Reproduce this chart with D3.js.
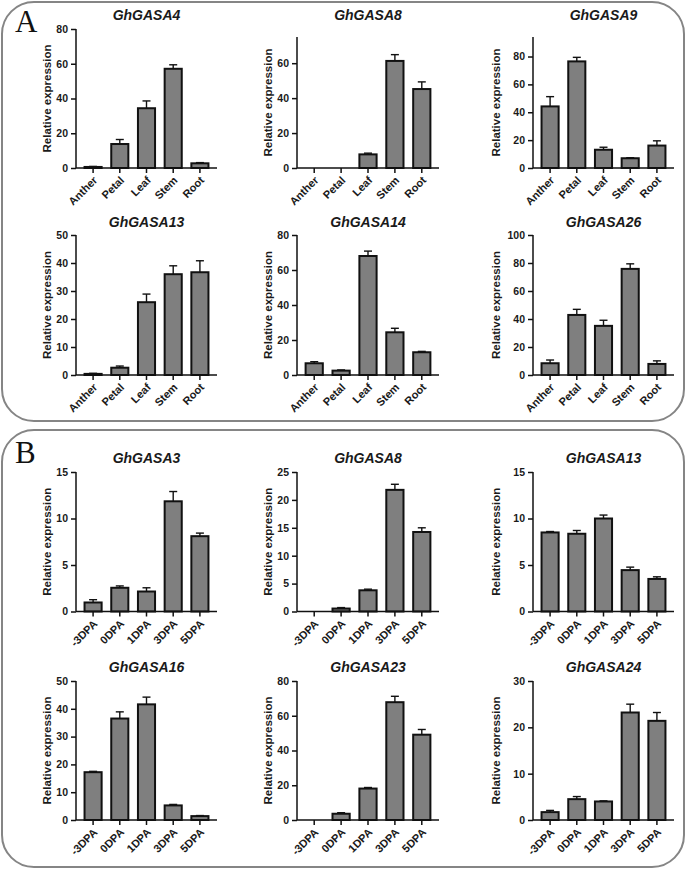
<!DOCTYPE html>
<html><head><meta charset="utf-8">
<script src="https://cdn.jsdelivr.net/npm/d3@7"></script>
<style>body{margin:0;background:#fff}svg{display:block}</style>
</head><body>
<script>
// ---------------- DATA ----------------
const tissues = ["Anther", "Petal", "Leaf", "Stem", "Root"];
const stages = ["-3DPA", "0DPA", "1DPA", "3DPA", "5DPA"];

const genesA = ["GhGASA4", "GhGASA8", "GhGASA9", "GhGASA13", "GhGASA14", "GhGASA26"];
const meansA = [
  [0.6, 13.8, 34.4, 57.1, 2.7],
  [0, 0, 7.8, 61.3, 45.2],
  [44.2, 76.5, 13.1, 7.0, 16.1],
  [0.4, 2.6, 26.0, 36.0, 36.7],
  [6.7, 2.5, 68.0, 24.4, 13.0],
  [8.4, 42.9, 35.1, 75.8, 7.9]
];
const sdA = [
  [0.3, 2.6, 4.2, 2.3, 0.4],
  [0, 0, 0.7, 3.6, 4.1],
  [7.0, 2.9, 1.8, 0.4, 3.4],
  [0.2, 0.6, 2.9, 3.0, 4.1],
  [0.9, 0.4, 2.8, 2.3, 0.5],
  [2.3, 4.0, 4.0, 3.6, 2.2]
];
const yMaxA = [80, 75, 94, 50, 80, 100];
const ticksA = [
  [0, 20, 40, 60, 80],
  [0, 20, 40, 60],
  [0, 20, 40, 60, 80],
  [0, 10, 20, 30, 40, 50],
  [0, 20, 40, 60, 80],
  [0, 20, 40, 60, 80, 100]
];

const genesB = ["GhGASA3", "GhGASA8", "GhGASA13", "GhGASA16", "GhGASA23", "GhGASA24"];
const meansB = [
  [0.97, 2.55, 2.15, 11.85, 8.1],
  [0, 0.53, 3.8, 21.8, 14.25],
  [8.5, 8.36, 10.0, 4.45, 3.5],
  [17.2, 36.5, 41.6, 5.25, 1.4],
  [0, 3.6, 18.1, 67.8, 49.1],
  [1.7, 4.5, 4.0, 23.2, 21.4]
];
const sdB = [
  [0.3, 0.2, 0.4, 1.05, 0.33],
  [0, 0.17, 0.2, 1.0, 0.75],
  [0.1, 0.35, 0.37, 0.32, 0.23],
  [0.3, 2.4, 2.6, 0.35, 0.2],
  [0, 0.6, 0.6, 3.4, 3.0],
  [0.37, 0.56, 0.13, 1.8, 1.8]
];
const yMaxB = [15, 25, 15, 50, 80, 30];
const ticksB = [
  [0, 5, 10, 15],
  [0, 5, 10, 15, 20, 25],
  [0, 5, 10, 15],
  [0, 10, 20, 30, 40, 50],
  [0, 20, 40, 60, 80],
  [0, 10, 20, 30]
];

const groupLabels = ["A", "B"];

// ---------------- LAYOUT ----------------
const W = 685, H = 869;
const FONT = "'Liberation Sans', Arial, Helvetica, sans-serif";
const colAxisX = [76, 297, 533];
const colRightX = [217, 439, 674];
const colYLabelX = [47, 268, 496];
const rowZero = [168, 375, 611.5, 820];
const rowTop = [29, 235, 472, 681];
const rowTitleY = [20, 227, 463, 672];
const topOverride = {"A1": 37, "A2": 37};
const boxes = [
  {x: 2, y: 2, w: 682, h: 419, lx: 15, ly: 32},
  {x: 2, y: 430, w: 682, h: 437, lx: 15, ly: 463}
];

const svg = d3.select("body").append("svg").attr("width", W).attr("height", H)
  .style("font-family", FONT);

// group boxes
boxes.forEach((b, i) => {
  svg.append("rect").attr("x", b.x).attr("y", b.y).attr("width", b.w).attr("height", b.h)
    .attr("rx", 32).attr("ry", 32).attr("fill", "none")
    .attr("stroke", "#858585").attr("stroke-width", 2);
  svg.append("text").attr("x", b.lx).attr("y", b.ly).text(groupLabels[i])
    .attr("font-family", "'Liberation Serif', 'Times New Roman', serif")
    .attr("font-size", 31).attr("fill", "#111");
});

const panels = [];
genesA.forEach((g, i) => panels.push({gene: g, cats: tissues, means: meansA[i], sd: sdA[i], yMax: yMaxA[i], ticks: ticksA[i], row: Math.floor(i / 3), col: i % 3, key: "A" + i}));
genesB.forEach((g, i) => panels.push({gene: g, cats: stages, means: meansB[i], sd: sdB[i], yMax: yMaxB[i], ticks: ticksB[i], row: 2 + Math.floor(i / 3), col: i % 3, key: "B" + i}));

panels.forEach(p => {
  const x0 = colAxisX[p.col], x1 = colRightX[p.col];
  const zero = rowZero[p.row];
  const top = topOverride[p.key] !== undefined ? topOverride[p.key] : rowTop[p.row];
  const g = svg.append("g");

  const x = d3.scaleBand().domain(p.cats).range([x0, x1]).paddingInner(0.36).paddingOuter(0.32);
  const y = d3.scaleLinear().domain([0, p.yMax]).range([zero, top]);

  // title
  g.append("text").attr("x", (x0 + x1) / 2).attr("y", rowTitleY[p.row])
    .attr("text-anchor", "middle").attr("font-size", 14).attr("font-weight", "bold")
    .attr("font-style", "italic").attr("fill", "#1a1a1a").text(p.gene);

  // y label
  g.append("text").attr("transform", `translate(${colYLabelX[p.col]},${(top + zero) / 2}) rotate(-90)`)
    .attr("text-anchor", "middle").attr("dy", "0.35em").attr("font-size", 11.5)
    .attr("font-weight", "bold").attr("fill", "#1a1a1a").text("Relative expression");

  // bars
  const data = p.cats.map((c, i) => ({c, v: p.means[i], e: p.sd[i]}));
  g.selectAll("rect.bar").data(data.filter(d => d.v > 0)).join("rect").attr("class", "bar")
    .attr("x", d => x(d.c)).attr("width", x.bandwidth())
    .attr("y", d => y(d.v)).attr("height", d => zero - y(d.v))
    .attr("fill", "#7f7f7f").attr("stroke", "#111").attr("stroke-width", 2);

  // error bars (upper)
  const eb = data.filter(d => d.e > 0);
  g.selectAll("line.ev").data(eb).join("line")
    .attr("x1", d => x(d.c) + x.bandwidth() / 2).attr("x2", d => x(d.c) + x.bandwidth() / 2)
    .attr("y1", d => y(d.v)).attr("y2", d => y(d.v + d.e))
    .attr("stroke", "#111").attr("stroke-width", 1.4);
  g.selectAll("line.ec").data(eb).join("line")
    .attr("x1", d => x(d.c) + x.bandwidth() / 2 - 4).attr("x2", d => x(d.c) + x.bandwidth() / 2 + 4)
    .attr("y1", d => y(d.v + d.e)).attr("y2", d => y(d.v + d.e))
    .attr("stroke", "#111").attr("stroke-width", 1.4);

  // y axis
  const ya = d3.axisLeft(y).tickValues(p.ticks).tickSize(5).tickPadding(3).tickFormat(d3.format("d"));
  const yg = g.append("g").attr("transform", `translate(${x0},0)`).call(ya);
  yg.select(".domain").attr("d", `M0,${top}V${zero}`).attr("stroke", "#111").attr("stroke-width", 1.5);
  yg.selectAll(".tick line").attr("stroke", "#111").attr("stroke-width", 1.5);
  yg.selectAll(".tick text").attr("font-size", 10.5).attr("font-weight", "bold")
    .attr("font-family", FONT).attr("fill", "#1a1a1a");

  // x axis
  const xa = d3.axisBottom(x).tickSize(5).tickFormat("");
  const xg = g.append("g").attr("transform", `translate(0,${zero})`).call(xa);
  xg.select(".domain").attr("d", `M${x0},0H${x1}`).attr("stroke", "#111").attr("stroke-width", 1.5);
  xg.selectAll(".tick line").attr("stroke", "#111").attr("stroke-width", 1.5);
  xg.selectAll(".tick").append("text")
    .attr("transform", "translate(5,13) rotate(-45)")
    .attr("text-anchor", "end").attr("font-size", 11).attr("font-weight", "bold")
    .attr("font-family", FONT).attr("fill", "#1a1a1a").text(d => d);
});
</script>
</body></html>
